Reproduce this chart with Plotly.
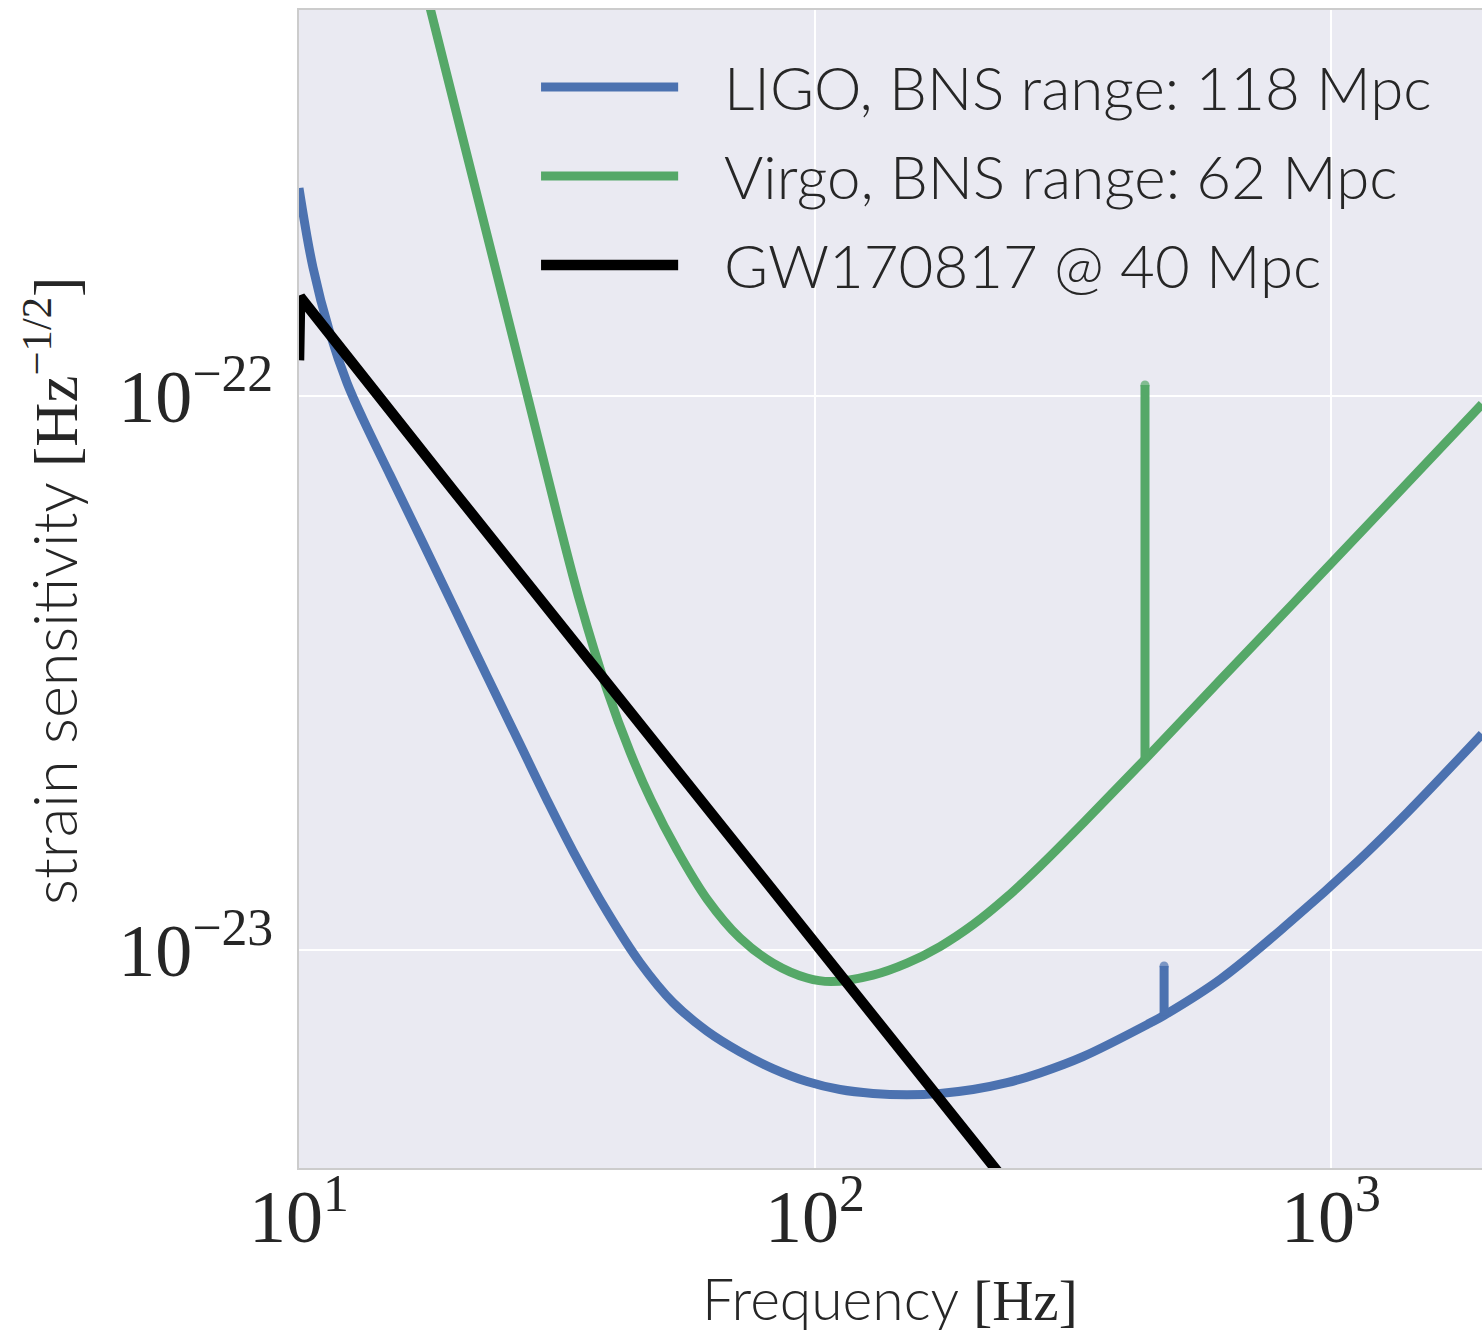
import plotly.graph_objects as go

# ---------------- data ----------------
ligo_freq = [10, 10.64, 11.48, 12.39, 13.3, 15.01, 17.39, 21.74, 26.8, 30.24, 33.96, 39.54,
             45.8, 53.06, 61.76, 71.55, 82.9, 96.5, 111.8, 129.5, 150.8, 174.7, 202.4, 235.6,
             272.9, 330.6, 445.9, 474.8, 612, 829, 1123, 1410, 1962]
ligo_asd = [2.373e-22, 1.709e-22, 1.299e-22, 1.056e-22, 9.09e-23, 7.20e-23, 5.43e-23, 3.52e-23,
            2.354e-23, 1.866e-23, 1.509e-23, 1.173e-23, 9.49e-24, 8.04e-24, 7.14e-24, 6.55e-24,
            6.11e-24, 5.79e-24, 5.60e-24, 5.51e-24, 5.48e-24, 5.51e-24, 5.60e-24, 5.76e-24,
            6.00e-24, 6.42e-24, 7.38e-24, 7.62e-24, 8.87e-24, 1.119e-23, 1.442e-23, 1.776e-23,
            2.454e-23]
ligo_line_freq = [474.8, 474.8]          # narrow spectral line
ligo_line_asd = [7.62e-24, 9.36e-24]

virgo_freq = [16.5, 17.99, 22.43, 27.75, 31.58, 35.04, 39.54, 43.81, 48.1, 54.02, 61.76,
              71.55, 82.9, 96.5, 107.4, 129.5, 150.8, 174.7, 202.4, 235.6, 272.9,
              335.1, 436, 612.2, 894.4, 1325, 1962]
virgo_asd = [6.86e-22, 4.975e-22, 2.194e-22, 9.96e-23, 6.15e-23, 4.25e-23, 2.946e-23, 2.277e-23,
             1.866e-23, 1.515e-23, 1.236e-23, 1.051e-23, 9.47e-24, 8.90e-24, 8.77e-24,
             9.01e-24, 9.47e-24, 1.0146e-23, 1.111e-23, 1.247e-23, 1.417e-23, 1.716e-23,
             2.209e-23, 3.083e-23, 4.466e-23, 6.57e-23, 9.67e-23]
virgo_line_freq = [436, 436]             # narrow spectral line
virgo_line_asd = [2.209e-23, 1.047e-22]

gw_freq = [10, 10.05, 20, 50, 100, 200, 300]
gw_asd = [1.16e-22, 1.51e-22, 6.72e-23, 2.31e-23, 1.03e-23, 4.58e-24, 2.86e-24]

series_names = ["LIGO, BNS range: 118 Mpc", "Virgo, BNS range: 62 Mpc", "GW170817 @ 40 Mpc"]
series_colors = ["#4C72B0", "#55A868", "#000000"]
series_widths = [9, 9, 10.5]

x_tickvals = [10, 100, 1000]
x_ticktext = ["10<sup>1</sup>", "10<sup>2</sup>", "10<sup>3</sup>"]
y_tickvals = [1e-22, 1e-23]
y_ticktext = ["10<sup>\u221222</sup>", "10<sup>\u221223</sup>"]

# ---------------- figure ----------------
SANS = "Lato"
SERIF = "Liberation Serif"
TXT = "#262626"
LIGHT_SPAN = "<span style='font-weight:300'>"
SERIF_SPAN = "<span style='font-family:Liberation Serif'>"

fig = go.Figure()
# smooth noise curves
for fx, fy, name, col, w in zip([ligo_freq, virgo_freq], [ligo_asd, virgo_asd],
                                series_names[:2], series_colors[:2], series_widths[:2]):
    fig.add_trace(go.Scatter(x=fx, y=fy, mode="lines", name=name,
                             line=dict(color=col, width=w, shape="spline", smoothing=1.0),
                             showlegend=False, legendgroup=name))
# spectral lines (vertical spikes), with round top cap
for fx, fy, name, col, w in zip([ligo_line_freq, virgo_line_freq], [ligo_line_asd, virgo_line_asd],
                                series_names[:2], series_colors[:2], series_widths[:2]):
    fig.add_trace(go.Scatter(x=fx, y=fy, mode="lines+markers", name=name,
                             line=dict(color=col, width=w),
                             marker=dict(color=col, size=[0, w], line=dict(width=0)),
                             showlegend=False, legendgroup=name))
# GW170817 signal
fig.add_trace(go.Scatter(x=gw_freq, y=gw_asd, mode="lines", name=series_names[2],
                         line=dict(color=series_colors[2], width=series_widths[2]),
                         showlegend=False))

# manual legend (long line samples, like the reference)
leg_y = [0.9335, 0.8566, 0.7798]
for yy, name, col, w in zip(leg_y, series_names, series_colors, series_widths):
    fig.add_shape(type="line", xref="paper", yref="paper",
                  x0=0.2046, x1=0.3205, y0=yy, y1=yy,
                  line=dict(color=col, width=w))
    fig.add_annotation(xref="paper", yref="paper", x=0.3576, y=yy,
                       xanchor="left", yanchor="middle", showarrow=False,
                       text=name, font=dict(family=SANS, size=60, color=TXT, weight=300))

# axis titles (sans words in light weight, units in serif)
fig.add_annotation(xref="paper", yref="paper", x=0.4996, y=-0.112,
                   xanchor="center", yanchor="middle", showarrow=False,
                   text=LIGHT_SPAN + "Frequency </span>" + SERIF_SPAN + "[Hz]</span>",
                   font=dict(family=SANS, size=57, color=TXT))
fig.add_annotation(xref="paper", yref="paper", x=-0.2088, y=0.4983,
                   xanchor="center", yanchor="middle", showarrow=False, textangle=-90,
                   text=LIGHT_SPAN + "strain sensitivity </span>" + SERIF_SPAN
                        + "[Hz<sup>\u22121/2</sup>]</span>",
                   font=dict(family=SANS, size=61, color=TXT))

fig.update_layout(
    width=1482, height=1335,
    margin=dict(l=299, r=0, t=10, b=167),
    paper_bgcolor="white",
    plot_bgcolor="#EAEAF2",
    showlegend=False,
    xaxis=dict(type="log", range=[1.0, 3.2926],
               tickvals=x_tickvals, ticktext=x_ticktext, ticks="",
               showgrid=True, gridcolor="white", gridwidth=2,
               zeroline=False, showline=True, linecolor="#CCCCCC", linewidth=2, mirror=True,
               tickfont=dict(family=SERIF, size=74, color=TXT), ticklabelstandoff=-17),
    yaxis=dict(type="log", range=[-23.3935, -21.3032],
               tickvals=y_tickvals, ticktext=y_ticktext, ticks="",
               showgrid=True, gridcolor="white", gridwidth=2,
               zeroline=False, showline=True, linecolor="#CCCCCC", linewidth=2, mirror=False,
               tickfont=dict(family=SERIF, size=74, color=TXT), ticklabelstandoff=9),
)

fig.write_html("out.html", config={"displayModeBar": False},
               post_script="document.body.style.margin='0px';")
